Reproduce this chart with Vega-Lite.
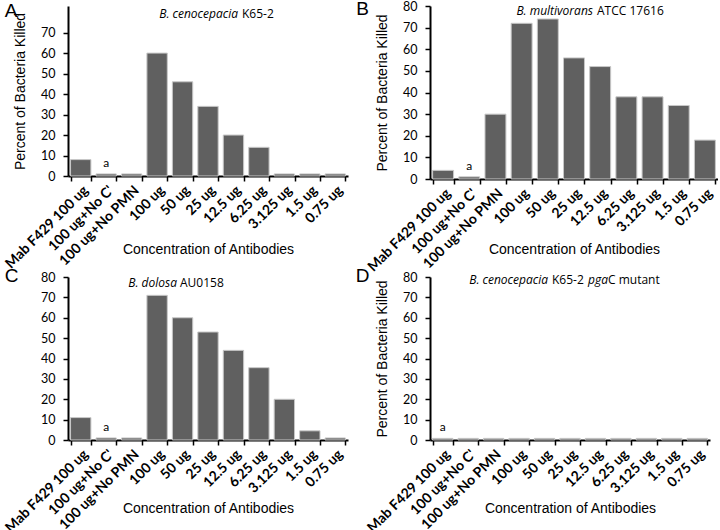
{
  "$schema": "https://vega.github.io/schema/vega-lite/v6.json",
  "padding": {"left": 2, "top": 0, "right": 0, "bottom": 0},
  "background": "white",
  "columns": 2,
  "spacing": {"row": -7, "column": 7},
  "config": {
    "view": {"stroke": null},
    "bar": {"fill": "#606060", "stroke": "#c8c8c8", "strokeWidth": 1},
    "text": {"font": "Open Sans", "fontSize": 12, "color": "black"},
    "axis": {
      "domainColor": "black", "domainWidth": 2, "tickColor": "black", "tickWidth": 1.5, "tickSize": 5,
      "grid": false, "labelColor": "black", "titleColor": "black",
      "titleFont": "Liberation Sans", "titleFontSize": 14, "titleFontWeight": "normal"
    },
    "axisX": {
      "tickBand": "extent", "labelAngle": -45, "labelAlign": "right", "labelBaseline": "top",
      "labelFont": "Lato", "labelFontSize": 14, "labelFontWeight": "bold", "labelOverlap": false, "labelPadding": 2
    },
    "axisY": {"labelFont": "Lato", "labelFontSize": 12.5, "labelPadding": 8, "titlePadding": 13},
    "title": {"anchor": "start", "frame": "bounds", "font": "Liberation Sans", "fontSize": 19, "fontWeight": "normal", "color": "black"}
  },
  "datasets": {
    "A": [
      {"c": "Mab F429 100 ug", "v": 8}, {"c": "100 ug+No C'", "v": 1}, {"c": "100 ug+No PMN", "v": 1},
      {"c": "100 ug", "v": 60}, {"c": "50 ug", "v": 46}, {"c": "25 ug", "v": 34}, {"c": "12.5 ug", "v": 20},
      {"c": "6.25 ug", "v": 14}, {"c": "3.125 ug", "v": 1}, {"c": "1.5 ug", "v": 1}, {"c": "0.75 ug", "v": 1}
    ],
    "B": [
      {"c": "Mab F429 100 ug", "v": 4}, {"c": "100 ug+No C'", "v": 1}, {"c": "100 ug+No PMN", "v": 30},
      {"c": "100 ug", "v": 72}, {"c": "50 ug", "v": 74}, {"c": "25 ug", "v": 56}, {"c": "12.5 ug", "v": 52},
      {"c": "6.25 ug", "v": 38}, {"c": "3.125 ug", "v": 38}, {"c": "1.5 ug", "v": 34}, {"c": "0.75 ug", "v": 18}
    ],
    "C": [
      {"c": "Mab F429 100 ug", "v": 11}, {"c": "100 ug+No C'", "v": 1}, {"c": "100 ug+No PMN", "v": 1},
      {"c": "100 ug", "v": 71}, {"c": "50 ug", "v": 60}, {"c": "25 ug", "v": 53}, {"c": "12.5 ug", "v": 44},
      {"c": "6.25 ug", "v": 35.5}, {"c": "3.125 ug", "v": 20}, {"c": "1.5 ug", "v": 4.5}, {"c": "0.75 ug", "v": 1}
    ],
    "D": [
      {"c": "Mab F429 100 ug", "v": 0.8}, {"c": "100 ug+No C'", "v": 0.8}, {"c": "100 ug+No PMN", "v": 0.8},
      {"c": "100 ug", "v": 0.8}, {"c": "50 ug", "v": 0.8}, {"c": "25 ug", "v": 0.8}, {"c": "12.5 ug", "v": 0.8},
      {"c": "6.25 ug", "v": 0.8}, {"c": "3.125 ug", "v": 0.8}, {"c": "1.5 ug", "v": 0.8}, {"c": "0.75 ug", "v": 0.8}
    ]
  },
  "concat": [
    {
      "width": 280, "height": 170,
      "title": {"text": "A", "offset": -15, "dx": 2},
      "layer": [
        {"data": {"name": "A"}, "mark": {"type": "bar"},
          "encoding": {
            "x": {"field": "c", "type": "nominal", "sort": null,
              "scale": {"domain": ["Mab F429 100 ug", "100 ug+No C'", "100 ug+No PMN", "100 ug", "50 ug", "25 ug", "12.5 ug", "6.25 ug", "3.125 ug", "1.5 ug", "0.75 ug"], "paddingInner": 0.2, "paddingOuter": 0.1},
              "axis": {"title": "Concentration of Antibodies", "titleY": 66}},
            "y": {"field": "v", "type": "quantitative", "scale": {"domain": [0, 83], "nice": false},
              "axis": {"values": [0, 10, 20, 30, 40, 50, 60, 70], "title": "Percent of Bacteria Killed"}}
          }},
        {"data": {"values": [{"c": "100 ug+No C'", "v": 1, "t": "a"}]}, "mark": {"type": "text", "baseline": "bottom", "dy": -4, "font": "Lato", "fontSize": 12},
          "encoding": {
            "x": {"field": "c", "type": "nominal", "axis": {"title": "Concentration of Antibodies", "titleY": 66}},
            "y": {"field": "v", "type": "quantitative", "axis": {"values": [0, 10, 20, 30, 40, 50, 60, 70], "title": "Percent of Bacteria Killed"}},
            "text": {"field": "t", "type": "nominal"}}},
        {"data": {"values": [{"t": "B. cenocepacia"}]}, "mark": {"type": "text", "align": "right", "fontStyle": "italic", "dx": 30},
          "encoding": {
            "x": {"datum": "25 ug", "type": "nominal", "axis": {"title": "Concentration of Antibodies", "titleY": 66}},
            "y": {"datum": 79.3, "type": "quantitative", "axis": {"values": [0, 10, 20, 30, 40, 50, 60, 70], "title": "Percent of Bacteria Killed"}},
            "text": {"field": "t", "type": "nominal"}}},
        {"data": {"values": [{"t": "K65-2"}]}, "mark": {"type": "text", "align": "left", "dx": 34},
          "encoding": {
            "x": {"datum": "25 ug", "type": "nominal", "axis": {"title": "Concentration of Antibodies", "titleY": 66}},
            "y": {"datum": 79.3, "type": "quantitative", "axis": {"values": [0, 10, 20, 30, 40, 50, 60, 70], "title": "Percent of Bacteria Killed"}},
            "text": {"field": "t", "type": "nominal"}}}
      ]
    },
    {
      "width": 288, "height": 173,
      "title": {"text": "B", "offset": -19, "dx": -9},
      "layer": [
        {"data": {"name": "B"}, "mark": {"type": "bar"},
          "encoding": {
            "x": {"field": "c", "type": "nominal", "sort": null,
              "scale": {"domain": ["Mab F429 100 ug", "100 ug+No C'", "100 ug+No PMN", "100 ug", "50 ug", "25 ug", "12.5 ug", "6.25 ug", "3.125 ug", "1.5 ug", "0.75 ug"], "paddingInner": 0.2, "paddingOuter": 0.1},
              "axis": {"title": "Concentration of Antibodies", "titleY": 63}},
            "y": {"field": "v", "type": "quantitative", "scale": {"domain": [0, 80], "nice": false},
              "axis": {"values": [0, 10, 20, 30, 40, 50, 60, 70, 80], "title": "Percent of Bacteria Killed"}}
          }},
        {"data": {"values": [{"c": "100 ug+No C'", "v": 1, "t": "a"}]}, "mark": {"type": "text", "baseline": "bottom", "dy": -4, "font": "Lato", "fontSize": 12},
          "encoding": {
            "x": {"field": "c", "type": "nominal", "axis": {"title": "Concentration of Antibodies", "titleY": 63}},
            "y": {"field": "v", "type": "quantitative", "axis": {"values": [0, 10, 20, 30, 40, 50, 60, 70, 80], "title": "Percent of Bacteria Killed"}},
            "text": {"field": "t", "type": "nominal"}}},
        {"data": {"values": [{"t": "B. multivorans"}]}, "mark": {"type": "text", "align": "right", "fontStyle": "italic", "dx": 19},
          "encoding": {
            "x": {"datum": "25 ug", "type": "nominal", "axis": {"title": "Concentration of Antibodies", "titleY": 63}},
            "y": {"datum": 77.9, "type": "quantitative", "axis": {"values": [0, 10, 20, 30, 40, 50, 60, 70, 80], "title": "Percent of Bacteria Killed"}},
            "text": {"field": "t", "type": "nominal"}}},
        {"data": {"values": [{"t": "ATCC 17616"}]}, "mark": {"type": "text", "align": "left", "dx": 23},
          "encoding": {
            "x": {"datum": "25 ug", "type": "nominal", "axis": {"title": "Concentration of Antibodies", "titleY": 63}},
            "y": {"datum": 77.9, "type": "quantitative", "axis": {"values": [0, 10, 20, 30, 40, 50, 60, 70, 80], "title": "Percent of Bacteria Killed"}},
            "text": {"field": "t", "type": "nominal"}}}
      ]
    },
    {
      "width": 280, "height": 163,
      "title": {"text": "C", "offset": -15, "dx": 2},
      "layer": [
        {"data": {"name": "C"}, "mark": {"type": "bar"},
          "encoding": {
            "x": {"field": "c", "type": "nominal", "sort": null,
              "scale": {"domain": ["Mab F429 100 ug", "100 ug+No C'", "100 ug+No PMN", "100 ug", "50 ug", "25 ug", "12.5 ug", "6.25 ug", "3.125 ug", "1.5 ug", "0.75 ug"], "paddingInner": 0.2, "paddingOuter": 0.1},
              "axis": {"title": "Concentration of Antibodies", "titleY": 61}},
            "y": {"field": "v", "type": "quantitative", "scale": {"domain": [0, 80], "nice": false},
              "axis": {"values": [0, 10, 20, 30, 40, 50, 60, 70, 80], "title": " "}}
          }},
        {"data": {"values": [{"c": "100 ug+No C'", "v": 1, "t": "a"}]}, "mark": {"type": "text", "baseline": "bottom", "dy": -4, "font": "Lato", "fontSize": 12},
          "encoding": {
            "x": {"field": "c", "type": "nominal", "axis": {"title": "Concentration of Antibodies", "titleY": 61}},
            "y": {"field": "v", "type": "quantitative", "axis": {"values": [0, 10, 20, 30, 40, 50, 60, 70, 80], "title": " "}},
            "text": {"field": "t", "type": "nominal"}}},
        {"data": {"values": [{"t": "B. dolosa"}]}, "mark": {"type": "text", "align": "right", "fontStyle": "italic", "dx": -31},
          "encoding": {
            "x": {"datum": "25 ug", "type": "nominal", "axis": {"title": "Concentration of Antibodies", "titleY": 61}},
            "y": {"datum": 77, "type": "quantitative", "axis": {"values": [0, 10, 20, 30, 40, 50, 60, 70, 80], "title": " "}},
            "text": {"field": "t", "type": "nominal"}}},
        {"data": {"values": [{"t": "AU0158"}]}, "mark": {"type": "text", "align": "left", "dx": -28},
          "encoding": {
            "x": {"datum": "25 ug", "type": "nominal", "axis": {"title": "Concentration of Antibodies", "titleY": 61}},
            "y": {"datum": 77, "type": "quantitative", "axis": {"values": [0, 10, 20, 30, 40, 50, 60, 70, 80], "title": " "}},
            "text": {"field": "t", "type": "nominal"}}}
      ]
    },
    {
      "width": 280, "height": 163,
      "title": {"text": "D", "offset": -15, "dx": -9},
      "layer": [
        {"data": {"name": "D"}, "mark": {"type": "bar"},
          "encoding": {
            "x": {"field": "c", "type": "nominal", "sort": null,
              "scale": {"domain": ["Mab F429 100 ug", "100 ug+No C'", "100 ug+No PMN", "100 ug", "50 ug", "25 ug", "12.5 ug", "6.25 ug", "3.125 ug", "1.5 ug", "0.75 ug"], "paddingInner": 0.2, "paddingOuter": 0.1},
              "axis": {"title": "Concentration of Antibodies", "titleY": 61}},
            "y": {"field": "v", "type": "quantitative", "scale": {"domain": [0, 80], "nice": false},
              "axis": {"values": [0, 10, 20, 30, 40, 50, 60, 70, 80], "title": "Percent of Bacteria Killed"}}
          }},
        {"data": {"values": [{"c": "Mab F429 100 ug", "v": 0.8, "t": "a"}]}, "mark": {"type": "text", "baseline": "bottom", "dy": -4, "font": "Lato", "fontSize": 12},
          "encoding": {
            "x": {"field": "c", "type": "nominal", "axis": {"title": "Concentration of Antibodies", "titleY": 61}},
            "y": {"field": "v", "type": "quantitative", "axis": {"values": [0, 10, 20, 30, 40, 50, 60, 70, 80], "title": "Percent of Bacteria Killed"}},
            "text": {"field": "t", "type": "nominal"}}},
        {"data": {"values": [{"t": "B. cenocepacia"}]}, "mark": {"type": "text", "align": "right", "fontStyle": "italic", "dx": -22},
          "encoding": {
            "x": {"datum": "25 ug", "type": "nominal", "axis": {"title": "Concentration of Antibodies", "titleY": 61}},
            "y": {"datum": 78.5, "type": "quantitative", "axis": {"values": [0, 10, 20, 30, 40, 50, 60, 70, 80], "title": "Percent of Bacteria Killed"}},
            "text": {"field": "t", "type": "nominal"}}},
        {"data": {"values": [{"t": "K65-2"}]}, "mark": {"type": "text", "align": "left", "dx": -18},
          "encoding": {
            "x": {"datum": "25 ug", "type": "nominal", "axis": {"title": "Concentration of Antibodies", "titleY": 61}},
            "y": {"datum": 78.5, "type": "quantitative", "axis": {"values": [0, 10, 20, 30, 40, 50, 60, 70, 80], "title": "Percent of Bacteria Killed"}},
            "text": {"field": "t", "type": "nominal"}}},
        {"data": {"values": [{"t": "pga"}]}, "mark": {"type": "text", "align": "left", "fontStyle": "italic", "dx": 18},
          "encoding": {
            "x": {"datum": "25 ug", "type": "nominal", "axis": {"title": "Concentration of Antibodies", "titleY": 61}},
            "y": {"datum": 78.5, "type": "quantitative", "axis": {"values": [0, 10, 20, 30, 40, 50, 60, 70, 80], "title": "Percent of Bacteria Killed"}},
            "text": {"field": "t", "type": "nominal"}}},
        {"data": {"values": [{"t": "C mutant"}]}, "mark": {"type": "text", "align": "left", "dx": 38},
          "encoding": {
            "x": {"datum": "25 ug", "type": "nominal", "axis": {"title": "Concentration of Antibodies", "titleY": 61}},
            "y": {"datum": 78.5, "type": "quantitative", "axis": {"values": [0, 10, 20, 30, 40, 50, 60, 70, 80], "title": "Percent of Bacteria Killed"}},
            "text": {"field": "t", "type": "nominal"}}}
      ]
    }
  ]
}
